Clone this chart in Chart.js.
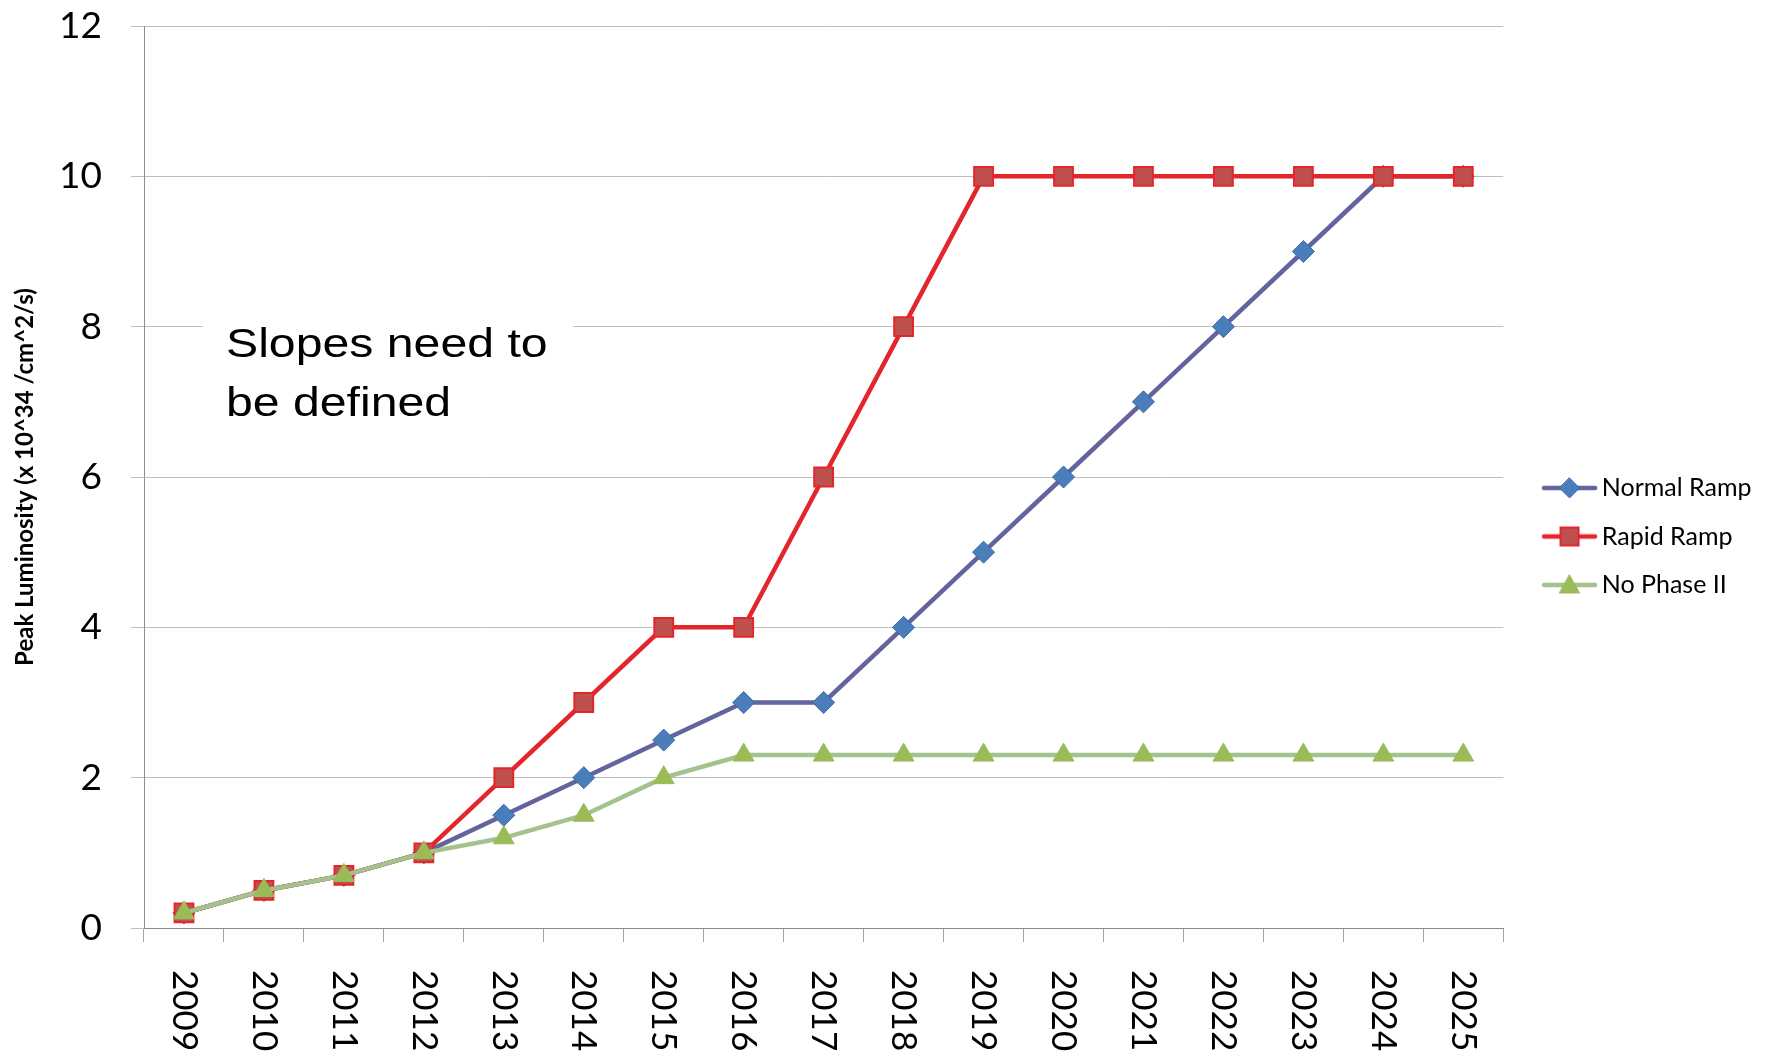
<!DOCTYPE html>
<html lang="en">
<head>
    <meta charset="UTF-8">
    <title>Peak Luminosity</title>
    <script src="https://cdn.jsdelivr.net/npm/chart.js"></script>
    <style>
        html, body { margin: 0; padding: 0; background: #fff; }
        #wrap { width: 1769px; height: 1057px; }
    </style>
</head>
<body>
    <div id="wrap"><canvas id="lumiChart" width="1769" height="1057"></canvas></div>

    <script>
        const years = ['2009', '2010', '2011', '2012', '2013', '2014', '2015', '2016', '2017',
                       '2018', '2019', '2020', '2021', '2022', '2023', '2024', '2025'];
        const normalRamp = [0.2, 0.5, 0.7, 1.0, 1.5, 2, 2.5, 3, 3, 4, 5, 6, 7, 8, 9, 10, 10];
        const rapidRamp  = [0.2, 0.5, 0.7, 1.0, 2, 3, 4, 4, 6, 8, 10, 10, 10, 10, 10, 10, 10];
        const noPhase2   = [0.2, 0.5, 0.7, 1.0, 1.2, 1.5, 2.0, 2.3, 2.3, 2.3, 2.3, 2.3, 2.3, 2.3, 2.3, 2.3, 2.3];
        const yTicks = [0, 2, 4, 6, 8, 10, 12];
        const noteLines = ['Slopes need to', 'be defined'];

        const FONT = 'Lato, "Open Sans", sans-serif';

        // small canvas for the legend: line with marker on it
        // (blank on the left so the line sits away from the plot)
        function legendIcon(lineColor, fill, border, shape) {
            const c = document.createElement('canvas');
            c.width = 96; c.height = 24;
            const g = c.getContext('2d');
            const mx = 59.5;
            g.strokeStyle = lineColor;
            g.lineWidth = 4.5;
            g.lineCap = 'round';
            g.beginPath(); g.moveTo(34, 12); g.lineTo(85, 12); g.stroke();
            g.fillStyle = fill;
            g.strokeStyle = border;
            g.lineWidth = shape === 'rect' ? 2 : 1;
            g.beginPath();
            if (shape === 'rect') {
                g.rect(mx - 9, 3, 18, 18);
            } else if (shape === 'rectRot') {
                g.moveTo(mx, 2); g.lineTo(mx + 10, 12); g.lineTo(mx, 22); g.lineTo(mx - 10, 12); g.closePath();
            } else {
                g.moveTo(mx, 2); g.lineTo(mx + 10, 20); g.lineTo(mx - 10, 20); g.closePath();
            }
            g.fill(); g.stroke();
            return c;
        }

        // x labels read top to bottom, which the category axis can't do itself
        const xLabelPlugin = {
            id: 'xLabels',
            afterDraw(chart) {
                const sc = chart.scales.x;
                const ctx = chart.ctx;
                ctx.save();
                ctx.fillStyle = '#000';
                ctx.font = '35px ' + FONT;
                ctx.textAlign = 'left';
                ctx.textBaseline = 'middle';
                sc.ticks.forEach((t, i) => {
                    ctx.save();
                    ctx.translate(sc.getPixelForTick(i), sc.top + 42);
                    ctx.rotate(Math.PI / 2);
                    ctx.fillText(years[i], 0, 0);
                    ctx.restore();
                });
                ctx.restore();
            }
        };

        // the text box over the plot
        const notePlugin = {
            id: 'note',
            afterDatasetsDraw(chart) {
                const ctx = chart.ctx;
                const y = chart.scales.y;
                const left = chart.chartArea.left;
                const top = y.getPixelForValue(8);
                ctx.save();
                ctx.fillStyle = '#fff';
                ctx.fillRect(left + 59, top - 10, 370, 115);
                ctx.fillStyle = '#000';
                ctx.font = '40px "Liberation Sans", Arial, sans-serif';
                ctx.textBaseline = 'alphabetic';
                ctx.translate(left + 82, top);
                ctx.scale(1.205, 1);
                ctx.fillText(noteLines[0], 0, 30);
                ctx.fillText(noteLines[1], 0, 89);
                ctx.restore();
            }
        };

        const icons = [
            legendIcon('#63639E', '#4A7EBB', '#3A6AA8', 'rectRot'),
            legendIcon('#E2262C', '#C0504D', '#E2262C', 'rect'),
            legendIcon('#A3C28D', '#9BBB59', '#9BBB59', 'triangle')
        ];

        new Chart(document.getElementById('lumiChart'), {
            type: 'line',
            data: {
                labels: years,
                datasets: [{
                    label: 'Normal Ramp',
                    data: normalRamp,
                    borderColor: '#63639E',
                    borderWidth: 4.5,
                    pointStyle: 'rectRot',
                    pointRadius: 11,
                    pointBackgroundColor: '#4A7EBB',
                    pointBorderColor: '#3A6AA8',
                    pointBorderWidth: 1,
                    order: 3
                }, {
                    label: 'Rapid Ramp',
                    data: rapidRamp,
                    borderColor: '#E2262C',
                    borderWidth: 4.5,
                    pointStyle: 'rect',
                    pointRadius: 13.3,
                    pointBackgroundColor: '#C0504D',
                    pointBorderColor: '#E2262C',
                    pointBorderWidth: 2,
                    order: 2
                }, {
                    label: 'No Phase II',
                    data: noPhase2,
                    borderColor: '#A3C28D',
                    borderWidth: 4.5,
                    pointStyle: 'triangle',
                    pointRadius: 12,
                    pointBackgroundColor: '#9BBB59',
                    pointBorderColor: '#9BBB59',
                    pointBorderWidth: 1,
                    order: 1
                }]
            },
            options: {
                responsive: false,
                animation: false,
                layout: { padding: { top: 16, left: 0, right: 7.5, bottom: 0 } },
                elements: { line: { tension: 0 } },
                plugins: {
                    tooltip: { enabled: false },
                    legend: {
                        position: 'right',
                        labels: {
                            usePointStyle: true,
                            pointStyleWidth: 62.5,
                            padding: 23.5,
                            color: '#000',
                            font: { family: FONT, size: 25 },
                            generateLabels(chart) {
                                return chart.data.datasets.map((ds, i) => ({
                                    text: ds.label,
                                    pointStyle: icons[i],
                                    fillStyle: ds.borderColor,
                                    strokeStyle: ds.borderColor,
                                    lineWidth: 0,
                                    fontColor: '#000',
                                    hidden: false,
                                    datasetIndex: i
                                }));
                            }
                        }
                    }
                },
                scales: {
                    x: {
                        offset: true,
                        afterFit(scale) {
                            scale.height = 129;
                            scale.paddingLeft = 0;
                            scale.paddingRight = 0;
                        },
                        grid: {
                            offset: true,
                            drawOnChartArea: false,
                            drawTicks: true,
                            tickLength: 14,
                            color: '#A6A6A6'
                        },
                        border: { color: '#8C8C8C', width: 1 },
                        ticks: {
                            color: 'rgba(0,0,0,0)',
                            font: { family: FONT, size: 35 },
                            minRotation: 90,
                            maxRotation: 90,
                            padding: 28
                        }
                    },
                    y: {
                        min: 0,
                        max: 12,
                        afterBuildTicks(axis) { axis.ticks = yTicks.map(v => ({ value: v })); },
                        afterFit(scale) {
                            scale.width = 144;
                            scale.paddingTop = 26;
                            scale.paddingBottom = 0;
                        },
                        grid: {
                            color: '#BEBEBE',
                            tickLength: 13
                        },
                        border: { color: '#8C8C8C', width: 1 },
                        ticks: {
                            color: '#000',
                            font: { family: FONT, size: 37 },
                            padding: 29
                        },
                        title: {
                            display: true,
                            text: 'Peak Luminosity (x 10^34 /cm^2/s)',
                            color: '#000',
                            font: { family: FONT, size: 24, weight: 'bold' },
                            padding: { top: 11, bottom: 4 }
                        }
                    }
                }
            },
            plugins: [xLabelPlugin, notePlugin]
        });
    </script>
</body>
</html>
